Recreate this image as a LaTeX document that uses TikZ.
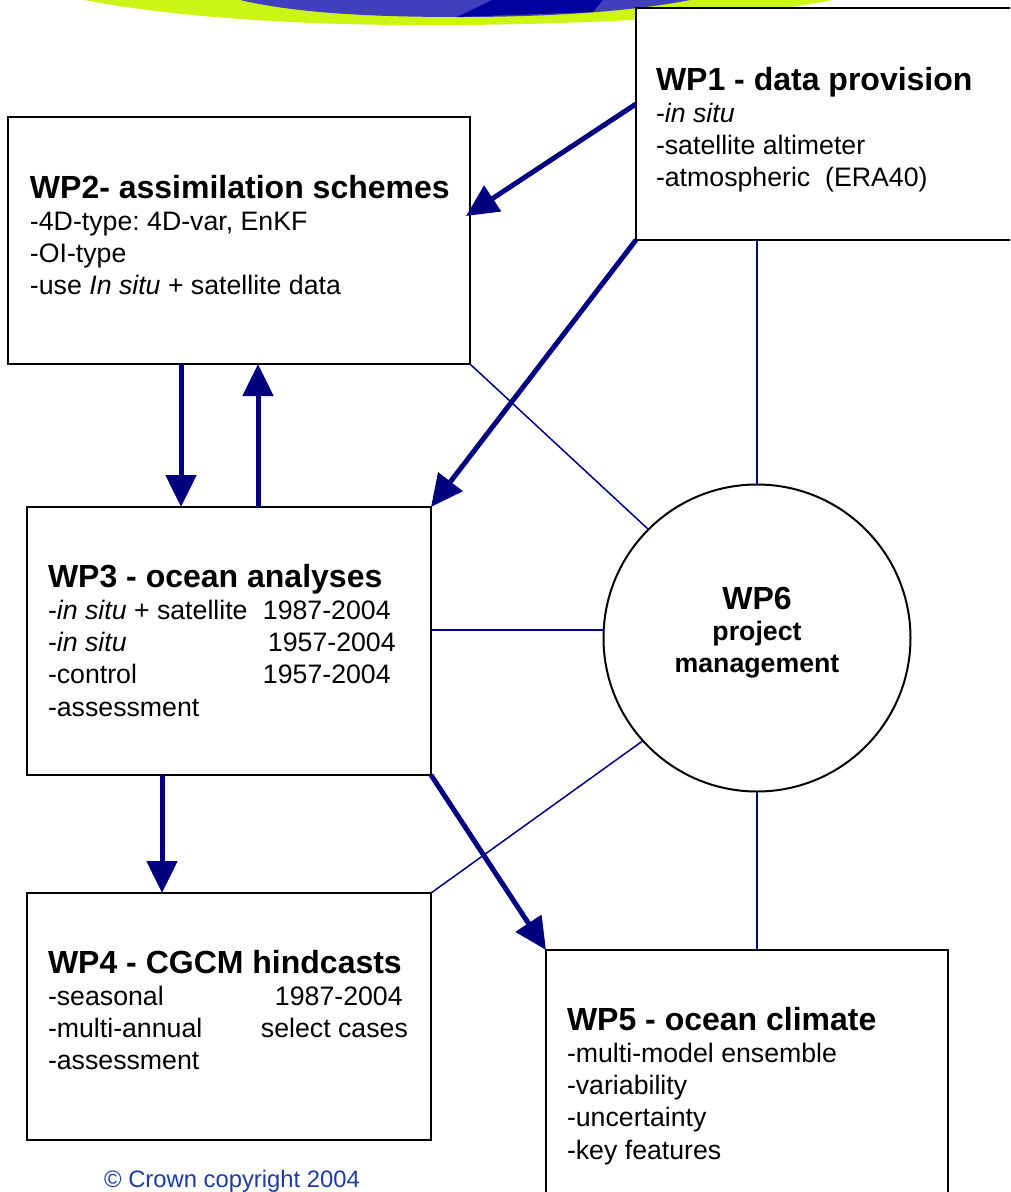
\documentclass[tikz,border=0pt]{standalone}
\usepackage{fontspec}
\setmainfont{Liberation Sans}
\usetikzlibrary{arrows.meta,calc}
\definecolor{navy}{RGB}{0,0,128}
\definecolor{lime}{RGB}{204,245,20}
\definecolor{bannerblue}{RGB}{64,64,190}
\definecolor{bannerdark}{RGB}{0,0,160}
\definecolor{copyblue}{RGB}{30,60,160}
\newcommand{\ttl}{\fontsize{32}{32}\selectfont\bfseries}
\newcommand{\bdy}{\fontsize{26.7}{32.3}\selectfont}
\newcommand{\bdb}{\fontsize{26.7}{31.5}\selectfont\bfseries}
\pgfdeclarehorizontalshading{bannergreen}{100bp}{color(0bp)=(white); color(22bp)=(lime); color(88bp)=(lime); color(100bp)=(white!40!lime)}
\frenchspacing
\begin{document}
\begin{tikzpicture}[x=1pt,y=-1pt,
  box/.style={draw=black,line width=2pt,fill=white,anchor=north west,inner sep=0pt,outer sep=0pt},
  txt/.style={anchor=base west,inner sep=0pt,outer sep=0pt,font=\bdy},
  flow/.style={draw=navy,line width=5pt,-{Triangle[length=32pt,width=30pt]}},
  link/.style={draw=navy,line width=1.5pt}]
\clip (0,0) rectangle (1010,1192);
\fill[white] (0,0) rectangle (1010,1192);
% banner
\shade[shading=bannergreen] (84,0) .. controls (200,22) and (350,26) .. (458,25) .. controls (600,24) and (760,15) .. (832,0) -- cycle;
\begin{scope}
\clip (240,0) .. controls (300,14) and (380,17) .. (461,17) .. controls (560,17) and (640,10) .. (690,0) -- cycle;
\fill[bannerblue] (230,0) rectangle (700,30);
\fill[bannerdark] (457,17) -- (492,0) -- (603,0) -- (593,12) -- cycle;
\end{scope}
% boxes
\node[box,minimum width=462pt,minimum height=247pt] (wp2) at (8,117) {};
\node[box,minimum width=420pt,minimum height=232pt] (wp1) at (636,8) {};
\node[box,minimum width=404pt,minimum height=268pt] (wp3) at (27,507) {};
\node[box,minimum width=404pt,minimum height=247pt] (wp4) at (27,893) {};
\node[box,minimum width=402pt,minimum height=300pt] (wp5) at (546,950) {};
\node[draw=black,line width=2pt,circle,fill=white,minimum size=307pt,inner sep=0pt,outer sep=0pt] (wp6) at (757,638) {};
% thin links
\draw[link] (wp2.south east) -- (wp6.135);
\draw[link] (wp6.north) -- (wp6.north |- wp1.south);
\draw[link] (wp6.177) -- (wp6.177 -| wp3.east);
\draw[link] (wp4.north east) -- (wp6.222);
\draw[link] (wp6.south) -- (wp6.south |- wp5.north);
% flow arrows
\coordinate (s12) at ($(wp1.north west)+(0,96)$);
\coordinate (e12) at ($(wp2.north east)+(-4,99)$);
\draw[flow] (s12) -- (e12);
\draw[flow] (wp1.south west) -- (wp3.north east);
\coordinate (d23) at ($(wp2.south west)+(173,0)$);
\draw[flow] (d23) -- (d23 |- wp3.north);
\coordinate (u32) at ($(wp3.north west)+(231,0)$);
\draw[flow] (u32) -- (u32 |- wp2.south);
\coordinate (d34) at ($(wp3.south west)+(135,0)$);
\draw[flow] (d34) -- (d34 |- wp4.north);
\draw[flow] (wp3.south east) -- (wp5.north west);
% texts
\node[txt] (t1) at (656,90) {\begin{tabular}[t]{@{}l@{}}{\ttl WP1 - data provision}\\ -\textit{in situ}\\ -satellite altimeter\\ -atmospheric~~(ERA40)\end{tabular}};
\node[txt] (t2) at (30,198) {\begin{tabular}[t]{@{}l@{}}{\ttl WP2- assimilation schemes}\\ -4D-type: 4D-var, EnKF\\ -OI-type\\ -use \textit{In situ} + satellite data\end{tabular}};
\node[txt] (t3) at (48,587) {\begin{tabular}[t]{@{}l@{}}{\ttl WP3 - ocean analyses}\\ \makebox[215pt][l]{-\textit{in situ} + satellite}1987-2004\\ \makebox[220pt][l]{-\textit{in situ}}1957-2004\\ \makebox[215pt][l]{-control}1957-2004\\ -assessment\end{tabular}};
\node[txt] (t4) at (48,973) {\begin{tabular}[t]{@{}l@{}}{\ttl WP4 - CGCM hindcasts}\\ \makebox[227pt][l]{-seasonal}1987-2004\\ \makebox[213pt][l]{-multi-annual}select cases\\ -assessment\end{tabular}};
\node[txt] (t5) at (567,1030) {\begin{tabular}[t]{@{}l@{}}{\ttl WP5 - ocean climate}\\ -multi-model ensemble\\ -variability\\ -uncertainty\\ -key features\end{tabular}};
\node[anchor=base,inner sep=0pt,font=\bdb] (t6) at (757,609) {\begin{tabular}[t]{@{}c@{}}{\ttl WP6}\\ project\\ management\end{tabular}};
\node[anchor=base,inner sep=0pt,text=copyblue,font=\fontsize{23.8}{28}\selectfont] (cr) at (232,1187) {© Crown copyright 2004};
\end{tikzpicture}
\end{document}
